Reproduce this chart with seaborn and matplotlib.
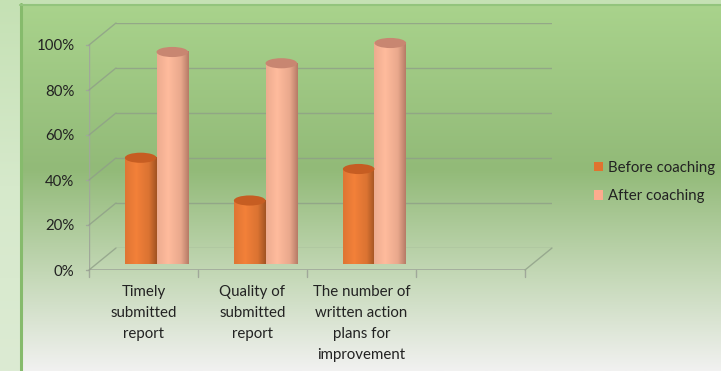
import numpy as np
import pandas as pd
import matplotlib
matplotlib.use("Agg")
import matplotlib.pyplot as plt
import seaborn as sns
from matplotlib.patches import Ellipse, ConnectionPatch, Patch, PathPatch
from matplotlib.path import Path
from matplotlib.colors import LinearSegmentedColormap, to_rgb

# ---------------- data ----------------
categories = ["Timely\nsubmitted\nreport",
              "Quality of\nsubmitted\nreport",
              "The number of\nwritten action\nplans for\nimprovement"]
before_vals = [0.45, 0.26, 0.40]
after_vals = [0.92, 0.87, 0.96]
series_names = ["Before coaching", "After coaching"]
y_ticks = [0.0, 0.2, 0.4, 0.6, 0.8, 1.0]
y_tick_labels = ["0%", "20%", "40%", "60%", "80%", "100%"]

series_colors = {"Before coaching": "#e0732f", "After coaching": "#fdab8e"}
cap_colors = {"Before coaching": "#c65d22", "After coaching": "#c88671"}

df = pd.DataFrame({
    "category": categories * 2,
    "value": before_vals + after_vals,
    "series": [series_names[0]] * 3 + [series_names[1]] * 3,
})

sns.set_theme(style="white")
plt.rcParams["font.family"] = ["Lato", "DejaVu Sans"]

W, H = 721, 371
fig = plt.figure(figsize=(W / 100, H / 100), dpi=100)


def fx(px):
    return px / W


def fy(py):
    return 1 - py / H


# ---------------- background ----------------
bg_outer = fig.add_axes([0, 0, 1, 1])
bg_outer.set_axis_off()
outer = LinearSegmentedColormap.from_list("o", ["#c5e1b4", "#d6e9cb", "#dcebd3"])
bg_outer.imshow(np.linspace(0, 1, 256).reshape(-1, 1), aspect="auto", cmap=outer,
                extent=[0, 1, 0, 1], transform=bg_outer.transAxes)

bg = fig.add_axes([fx(20), 0, 1 - fx(20), fy(4)])
bg.set_axis_off()
grad = LinearSegmentedColormap.from_list(
    "g", [(0.0, "#a9d38c"), (0.45, "#92ba78"), (0.75, "#c6d9b9"), (1.0, "#f1f1f0")])
bg.imshow(np.linspace(0, 1, 256).reshape(-1, 1), aspect="auto", cmap=grad,
          extent=[0, 1, 0, 1], transform=bg.transAxes)
fig.add_artist(plt.Line2D([fx(20.5), fx(20.5)], [0, fy(4)], color="#86bb6c", lw=2.2))
fig.add_artist(plt.Line2D([fx(20), 1], [fy(4.5), fy(4.5)], color="#93c47d", lw=1.5))

# ---------------- planes ----------------
# back wall (grid)
ax_back = fig.add_axes([fx(116), fy(248), fx(552 - 116), fy(23) - fy(248)])
ax_back.set_xlim(-0.5, 3.5)
ax_back.set_ylim(0, 1)
ax_back.patch.set_alpha(0)
for yv in y_ticks:
    ax_back.axhline(yv, color="#8f9f88", lw=1.0, alpha=0.8)
ax_back.set_xticks([])
ax_back.set_yticks([])
for s in ax_back.spines.values():
    s.set_visible(False)

# front plane (axis, ticks)
ax_front = fig.add_axes([fx(89), fy(270), fx(525 - 89), fy(45) - fy(270)])
ax_front.set_xlim(-0.5, 3.5)
ax_front.set_ylim(0, 1)
ax_front.patch.set_alpha(0)
for s in ax_front.spines.values():
    s.set_visible(False)
ax_front.set_yticks(y_ticks)
ax_front.set_yticklabels(y_tick_labels, fontsize=10.8, color="#222222")
ax_front.tick_params(axis="y", length=0, pad=10.5)
ax_front.set_xticks([0, 1, 2])
ax_front.set_xticklabels(categories, fontsize=10.8, color="#222222", linespacing=1.62)
ax_front.tick_params(axis="x", length=0, pad=11)

ax_front.plot([-0.5, 3.5], [0, 0], color="#a0a89a", lw=1.2)
for xv in [-0.5, 0.5, 1.5, 2.5, 3.5]:
    ax_front.plot([xv, xv], [0, -0.03], color="#a0a89a", lw=1.0, clip_on=False)
ax_front.plot([-0.5, -0.5], [0, 1], color="#a0a89a", lw=1.0)
for yv in y_ticks:
    ax_front.plot([-0.5, -0.53], [yv, yv], color="#a0a89a", lw=1.0, clip_on=False)

# connecting perspective lines (left wall + floor)
for yv in y_ticks:
    con = ConnectionPatch(xyA=(-0.5, yv), coordsA=ax_front.transData,
                          xyB=(-0.5, yv), coordsB=ax_back.transData,
                          color="#8f9f88", lw=1.0, alpha=0.8)
    fig.add_artist(con)
con = ConnectionPatch(xyA=(3.5, 0), coordsA=ax_front.transData,
                      xyB=(3.5, 0), coordsB=ax_back.transData,
                      color="#8f9f88", lw=1.0, alpha=0.8)
fig.add_artist(con)

# ---------------- bars (middle plane) ----------------
ax = fig.add_axes([fx(102), fy(259), fx(538 - 102), fy(34) - fy(259)])
ax.patch.set_alpha(0)
sns.barplot(data=df, x="category", y="value", hue="series", order=categories,
            hue_order=series_names, palette=series_colors, width=0.58, gap=0,
            ax=ax, legend=False, saturation=1, edgecolor="none")
ax.set_xlim(-0.5, 3.5)
ax.set_ylim(0, 1)
ax.set_axis_off()

# cylinder shading
shade = np.linspace(0, 1, 100)
for container, name in zip(ax.containers, series_names):
    base = np.array(to_rgb(series_colors[name]))
    dark = base * 0.72
    light = np.minimum(base * 1.05 + 0.03, 1)
    prof = np.interp(shade, [0, 0.35, 0.75, 1.0], [0.25, 0.0, 0.3, 1.0])
    img = np.array([light * (1 - p) + dark * p for p in prof]).reshape(1, -1, 3)
    for bar in container:
        x0, w, h = bar.get_x(), bar.get_width(), bar.get_height()
        ell_h = 0.045
        bot = Ellipse((x0 + w / 2, 0), w, ell_h, facecolor="none", edgecolor="none")
        ax.add_patch(bot)
        im = ax.imshow(img, aspect="auto", extent=[x0, x0 + w, -ell_h / 2, h],
                       zorder=3, clip_on=False)
        bar.set_visible(False)
        rect = plt.Rectangle((x0, 0), w, h)
        verts = []
        codes = []
        for p in [rect, bot]:
            pth = p.get_path().transformed(p.get_patch_transform())
            verts.extend(pth.vertices)
            codes.extend(pth.codes if pth.codes is not None else
                         [Path.MOVETO] + [Path.LINETO] * (len(pth.vertices) - 1))
        clip = PathPatch(Path(verts, codes), transform=ax.transData,
                         facecolor="none", edgecolor="none")
        ax.add_patch(clip)
        im.set_clip_path(clip)
        cap = Ellipse((x0 + w / 2, h), w, ell_h, facecolor=cap_colors[name],
                      edgecolor="none", zorder=4, clip_on=False)
        ax.add_patch(cap)
ax.set_xlim(-0.5, 3.5)
ax.set_ylim(0, 1)

# ---------------- legend ----------------
handles = [Patch(facecolor=series_colors[n], edgecolor="none") for n in series_names]
fig.legend(handles, series_names, loc="center left",
           bbox_to_anchor=(fx(580), fy(182)), frameon=False, fontsize=10.8,
           handlelength=0.6, handleheight=0.6, handletextpad=0.4,
           labelspacing=0.95, labelcolor="#222222")

fig.savefig("out.png", dpi=100)
